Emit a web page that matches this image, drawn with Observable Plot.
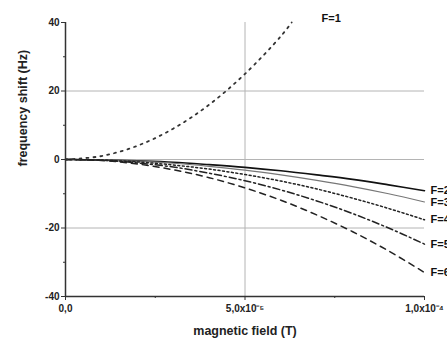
<!DOCTYPE html>
<html><head><meta charset="utf-8">
<script src="https://cdn.jsdelivr.net/npm/d3@7"></script>
<script src="https://cdn.jsdelivr.net/npm/@observablehq/plot@0.6"></script>
<style>body{margin:0;background:#fff}</style>
</head><body><div id="chart"></div>
<script>
// magnetic field (T)
const fieldX = [0, 1e-5, 2e-5, 3e-5, 4e-5, 5e-5, 6e-5, 7e-5, 8e-5, 9e-5, 1e-4];
const f1X = [0, 1e-5, 2e-5, 3e-5, 4e-5, 5e-5, 6e-5, 6.3e-5];
const f1Y = [0, 1, 4, 9, 16, 25, 36, 40];
const seriesLabels = ["F=2", "F=3", "F=4", "F=5", "F=6"];
const seriesValues = [
  [0, -0.1, -0.4, -0.8, -1.5, -2.3, -3.3, -4.5, -5.8, -7.4, -9.1],
  [0, -0.1, -0.5, -1.1, -2.0, -3.1, -4.5, -6.1, -7.9, -10.0, -12.4],
  [0, -0.2, -0.7, -1.6, -2.8, -4.4, -6.3, -8.6, -11.3, -14.3, -17.6],
  [0, -0.2, -1.0, -2.2, -4.0, -6.2, -8.9, -12.1, -15.8, -20.0, -24.7],
  [0, -0.3, -1.3, -3.0, -5.3, -8.3, -11.9, -16.2, -21.1, -26.7, -33.0]
];
const seriesStroke = ["#111", "#777", "#222", "#222", "#222"];
const seriesWidth = [1.6, 1.2, 1.5, 1.5, 1.5];
const seriesDash = ["none", "none", "2,2.5", "7,3,2,3", "6,5"];
const yTicks = [-40, -20, 0, 20, 40];
const yMinor = [-30, -10, 10, 30];
const xTicks = [0, 5e-5, 1e-4];
const xTickLabels = ["0,0", "5,0x10\u207B\u2075", "1,0x10\u207B\u2074"];
const xMinor = [2.5e-5, 7.5e-5];
const gridY = [20, 0, -20];
const gridX = [5e-5];
const f1Label = {x: 7.4e-5, y: 41.3, text: "F=1"};

const lineMarks = seriesValues.map((vals, i) => {
  const d = fieldX.map((x, j) => ({x, y: vals[j]}));
  return Plot.line(d, {x: "x", y: "y", curve: "catmull-rom", stroke: seriesStroke[i],
    strokeWidth: seriesWidth[i], strokeDasharray: seriesDash[i]});
});
const endLabels = seriesValues.map((vals, i) => ({x: fieldX[fieldX.length - 1], y: vals[vals.length - 1], text: seriesLabels[i]}));
const f1Data = f1X.map((x, j) => ({x, y: f1Y[j]}));

const chart = Plot.plot({
  width: 447, height: 347,
  marginLeft: 65, marginRight: 23, marginTop: 22, marginBottom: 51,
  style: {fontFamily: "Liberation Sans, Arial, sans-serif", fontWeight: "bold", fontSize: "10px", background: "#fff", overflow: "visible"},
  x: {domain: [0, 1e-4]},
  y: {domain: [-40, 40]},
  marks: [
    Plot.ruleY(gridY, {stroke: "#b4b4b4", strokeWidth: 1}),
    Plot.ruleX(gridX, {y1: -40, y2: 40, stroke: "#b4b4b4", strokeWidth: 1}),
    ...lineMarks,
    Plot.line(f1Data, {x: "x", y: "y", curve: "catmull-rom", stroke: "#333", strokeWidth: 1.8, strokeDasharray: "2,5"}),
    Plot.ruleX([0], {y1: -40, y2: 40, stroke: "#333", strokeWidth: 1.5}),
    Plot.ruleY([-40], {x1: 0, x2: 1e-4, stroke: "#333", strokeWidth: 1.5}),
    Plot.axisY(yTicks, {tickSize: 4, tickPadding: 2, tickFormat: d => String(d), label: null, stroke: "#333", fill: "#222"}),
    Plot.axisY(yMinor, {tickSize: 2, tickFormat: () => "", label: null, stroke: "#333"}),
    Plot.axisX(xTicks, {tickSize: 4, tickPadding: 4, tickFormat: (d, i) => xTickLabels[i], label: null, stroke: "#333", fill: "#222"}),
    Plot.axisX(xMinor, {tickSize: 2, tickFormat: () => "", label: null, stroke: "#333"}),
    Plot.text(endLabels, {x: "x", y: "y", text: "text", dx: 6, textAnchor: "start", fontSize: 11, fill: "#111"}),
    Plot.text([f1Label], {x: "x", y: "y", text: "text", fontSize: 11, fill: "#111"}),
    Plot.text(["magnetic field (T)"], {frameAnchor: "bottom", dy: 38, fontSize: 12.5, fill: "#222"}),
    Plot.text(["frequency shift (Hz)"], {frameAnchor: "left", dx: -43, dy: 7, rotate: -90, fontSize: 12.5, fill: "#222"})
  ]
});
document.getElementById("chart").appendChild(chart);
</script>
</body></html>
